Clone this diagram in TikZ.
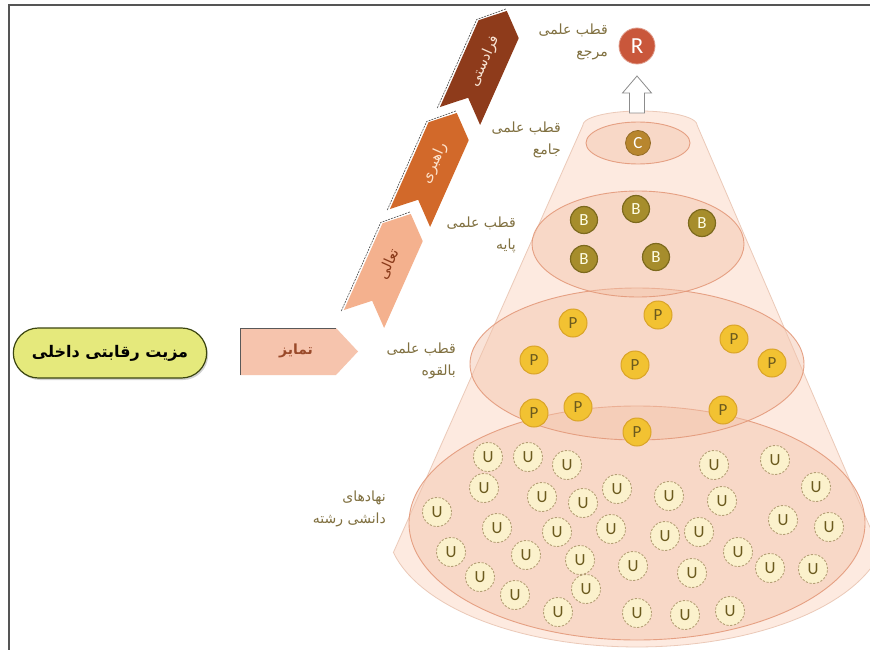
\documentclass[tikz,border=0pt]{standalone}
\usepackage{fontspec}
\newfontfamily\fa[Script=Arabic]{DejaVu Sans}
\newfontfamily\lat{Carlito}
\TeXXeTstate=1
\usetikzlibrary{shapes.misc,shadows}
\definecolor{conefill}{HTML}{FDEAE0}
\definecolor{coneline}{HTML}{EBC9B8}
\definecolor{ellfill}{HTML}{F3C3AA}
\definecolor{ellline}{HTML}{E3997A}
\definecolor{bfill}{HTML}{A68D2C}
\definecolor{bline}{HTML}{7D6A1E}
\definecolor{pfill}{HTML}{F2C232}
\definecolor{pline}{HTML}{DAA428}
\definecolor{ptext}{HTML}{6B5A1E}
\definecolor{ufill}{HTML}{FBF1CC}
\definecolor{uline}{HTML}{B5A076}
\definecolor{cfill}{HTML}{B8862E}
\definecolor{rfill}{HTML}{C9573B}
\definecolor{chevA}{HTML}{F4B18E}
\definecolor{chevB}{HTML}{D2692A}
\definecolor{chevC}{HTML}{8E3B1B}
\definecolor{chevAtext}{HTML}{8A3A1A}
\definecolor{chevBtext}{HTML}{FDE3CC}
\definecolor{chevCtext}{HTML}{F7E2D2}
\definecolor{tamfill}{HTML}{F6C4AD}
\definecolor{tamtext}{HTML}{9A4A2A}
\definecolor{advfill}{HTML}{E5E97C}
\definecolor{advline}{HTML}{3B4510}
\definecolor{lbltext}{HTML}{807040}
\definecolor{framegray}{HTML}{555555}
\newcommand{\rtl}[1]{\beginR #1\endR}
\begin{document}
\begin{tikzpicture}[x=1pt,y=-1pt,
  ell/.style={fill=ellfill, fill opacity=0.45, draw=ellline, draw opacity=0.9, line width=0.9pt},
  disc/.style={circle, inner sep=0pt, font=\lat\fontsize{17}{17}\selectfont},
  bcirc/.style={disc, fill=bfill, draw=bline, line width=1.2pt, minimum size=27pt, text=white!90!yellow},
  pcirc/.style={disc, fill=pfill, draw=pline, line width=1pt, minimum size=28pt, text=ptext},
  ucirc/.style={disc, fill=ufill, draw=uline, dashed, dash pattern=on 2.2pt off 1.6pt, line width=0.9pt, minimum size=29pt, text=ptext},
  ccirc/.style={disc, fill=cfill, draw=cfill!80!black, line width=0.8pt, minimum size=25pt, text=white},
  rcirc/.style={disc, fill=rfill, draw=rfill!60!white, line width=0.8pt, minimum size=36pt, text=white, font=\lat\fontsize{23}{23}\selectfont},
  lbl/.style={align=right, anchor=east, text=lbltext, inner sep=0pt, font=\fa\fontsize{14}{22}\selectfont},
  chevtext/.style={inner sep=0pt, font=\fa\fontsize{14.5}{14.5}\selectfont},
  shadowline/.style={draw=black!70, line width=0.6pt, dash pattern=on 2pt off 1pt}
]
\useasboundingbox (0,0) rectangle (870,650);
\fill[white] (0,0) rectangle (870,650);
% frame
\draw[framegray, line width=1.5pt] (9,650) -- (9,5) -- (870,5);

% cone
\path[fill=conefill, draw=coneline, line width=0.8pt]
  (697,125) -- (880.7,552.2)
  -- plot[domain=13:167, samples=60] ({637+250*cos(\x)},{525+122*sin(\x)})
  -- (583,125)
  -- plot[domain=180:360, samples=40] ({640+57*cos(\x)},{125+14*sin(\x)}) -- cycle;

% level ellipses
\draw[ell] (637,523) ellipse [x radius=228, y radius=117];
\draw[ell] (637,364) ellipse [x radius=167, y radius=76];
\draw[ell] (638,244) ellipse [x radius=106, y radius=53];
\draw[ell] (638,143) ellipse [x radius=52, y radius=21];

% up arrow
\draw[black!45, line width=0.8pt, fill=white] (629.5,113) -- (629.5,93) -- (622.5,93) -- (637,76) -- (651.5,93) -- (644.5,93) -- (644.5,113) -- cycle;

% R and C
\node[rcirc] (r) at (637,46) {R};
\node[ccirc] (c) at (638,143) {C};

% B
\node[bcirc] (b1) at (584,220) {B};
\node[bcirc] (b2) at (636,209) {B};
\node[bcirc] (b3) at (702,223) {B};
\node[bcirc] (b4) at (584,259) {B};
\node[bcirc] (b5) at (656,257) {B};

% P
\foreach \p [count=\i] in {(573,323),(658,315),(734,339),(534,360),(635,365),(772,363),(534,413),(578,407),(723,410),(637,432)}
  \node[pcirc] (p\i) at \p {P};

% U
\foreach \p [count=\i] in {(488,457),(528,457),(567,465),(714,465),(775,460),(484,488),(542,497),(583,503),(617,489),(669,496),(722,501),(816,487),(437,512),(497,528),(557,532),(611,529),(665,536),(699,532),(783,520),(829,527),(451,552),(526,555),(580,560),(633,566),(692,573),(738,552),(770,568),(813,569),(480,577),(586,589),(515,595),(558,612),(637,613),(685,615),(730,611)}
  \node[ucirc] (u\i) at \p {U};

% chevrons
\begin{scope}[shift={(364,319)}, rotate=66]
  \draw[shadowline] (-2,-24) -- (95,-24) -- (117,-1);
  \fill[chevA] (0,-22) -- (20,0) -- (0,22) -- (95,22) -- (115,0) -- (95,-22) -- cycle;
  \node[chevtext, text=chevAtext, rotate=66] (t1) at (60,0) {\rtl{تعالی}};
\end{scope}
\begin{scope}[shift={(410,218)}, rotate=66]
  \draw[shadowline] (-2,-24) -- (95,-24) -- (117,-1);
  \fill[chevB] (0,-22) -- (20,0) -- (0,22) -- (95,22) -- (115,0) -- (95,-22) -- cycle;
  \node[chevtext, text=chevBtext, rotate=66] (t2) at (60,0) {\rtl{راهبری}};
\end{scope}
\begin{scope}[shift={(460,116)}, rotate=66]
  \draw[shadowline] (-2,-24) -- (95,-24) -- (117,-1);
  \fill[chevC] (0,-22) -- (20,0) -- (0,22) -- (95,22) -- (115,0) -- (95,-22) -- cycle;
  \node[chevtext, text=chevCtext, rotate=66] (t3) at (60,0) {\rtl{فرادستی}};
\end{scope}

% tamayoz
\fill[tamfill] (240,328) -- (336,328) -- (358,351.5) -- (336,375) -- (240,375) -- cycle;
\draw[black!65, line width=0.8pt] (240,375) -- (240,328) -- (336,328);
\node[chevtext, text=tamtext, font=\fa\bfseries\fontsize{14}{14}\selectfont] (tam) at (296,351) {\rtl{تمایز}};

% advantage
\node[rounded rectangle, minimum width=200pt, minimum height=50pt, fill=advfill, draw=advline, line width=1.2pt,
  drop shadow={shadow xshift=1.5pt, shadow yshift=-2pt, opacity=0.35},
  font=\fa\bfseries\fontsize{16}{16}\selectfont] (adv) at (110,353) {\rtl{مزیت رقابتی داخلی}};

% labels
\node[lbl] (lr) at (608,42) {\rtl{قطب علمی}\\\rtl{مرجع}};
\node[lbl] (lc) at (561,140) {\rtl{قطب علمی}\\\rtl{جامع}};
\node[lbl] (lb) at (516,235) {\rtl{قطب علمی}\\\rtl{پایه}};
\node[lbl] (lp) at (456,361) {\rtl{قطب علمی}\\\rtl{بالقوه}};
\node[lbl] (lu) at (386,509) {\rtl{نهادهای}\\\rtl{دانشی رشته}};
\end{tikzpicture}
\end{document}
